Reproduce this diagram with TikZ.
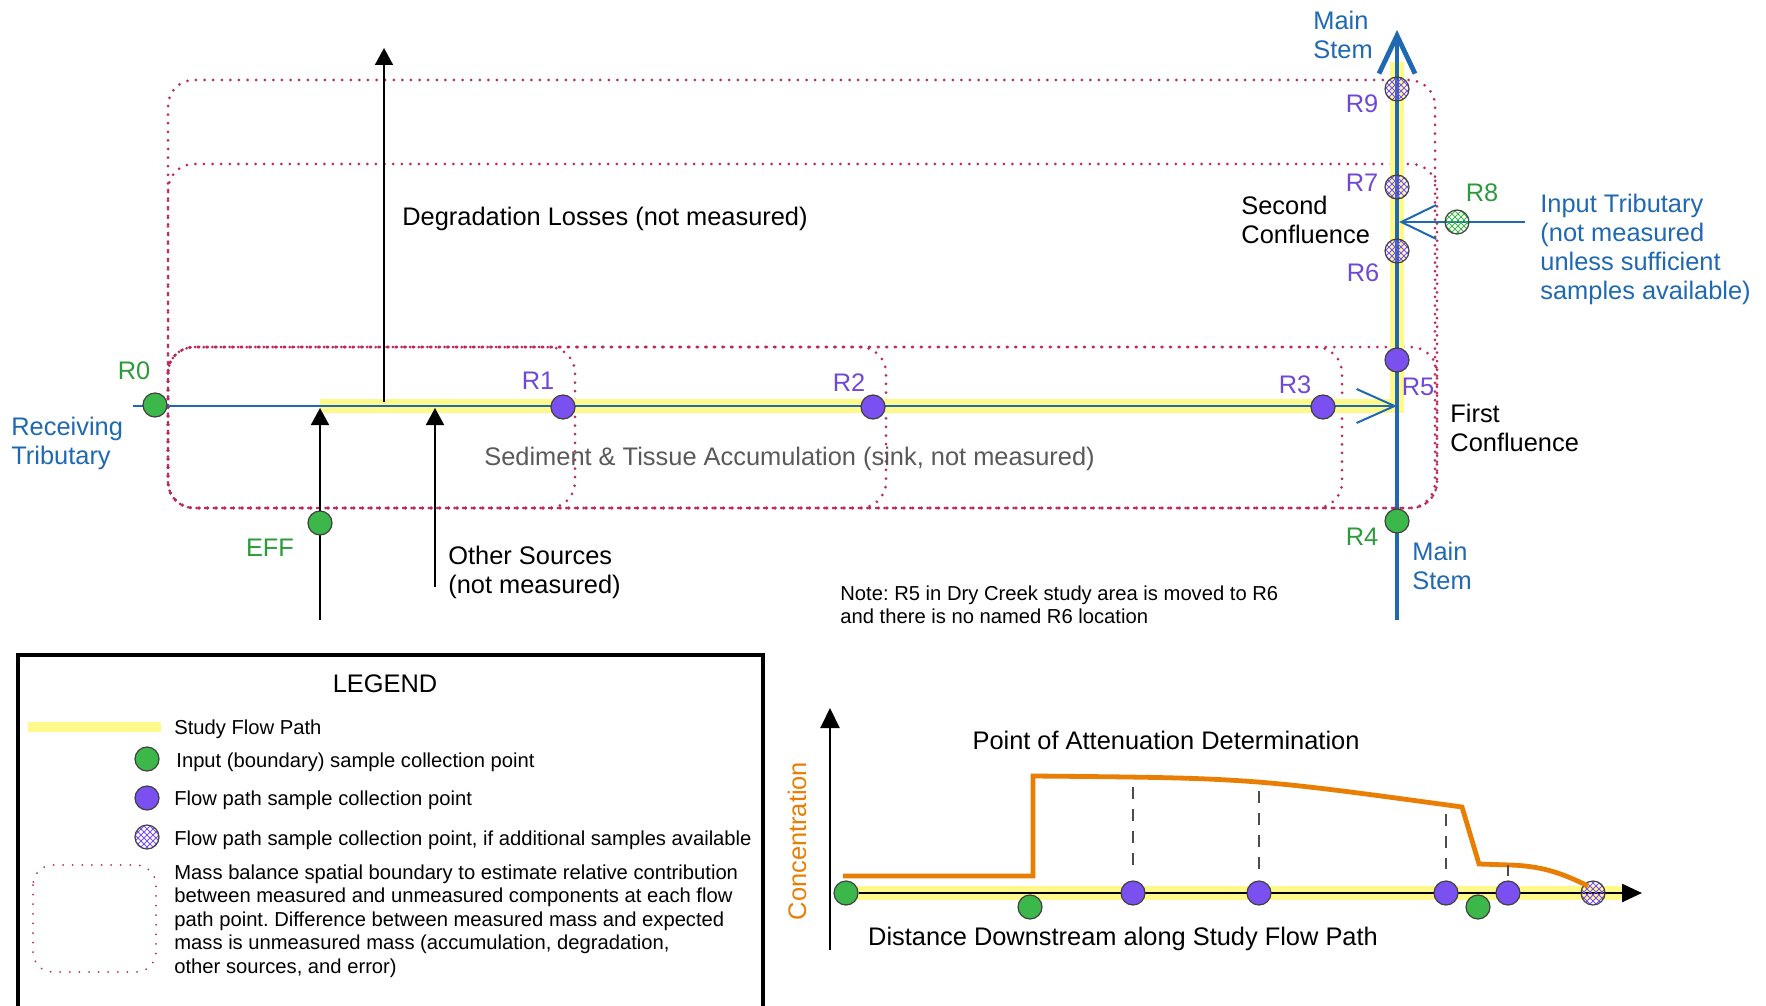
\documentclass[tikz,border=0pt]{standalone}
\usepackage{fontspec}
\setmainfont{Liberation Sans}
\usetikzlibrary{arrows.meta,patterns}
\frenchspacing

\definecolor{rivblue}{RGB}{31,104,178}
\definecolor{ingreen}{RGB}{60,184,74}
\definecolor{txtgreen}{RGB}{46,154,60}
\definecolor{ptpurple}{RGB}{122,80,240}
\definecolor{txtpurple}{RGB}{112,72,216}
\definecolor{bndred}{RGB}{190,40,90}
\definecolor{pathyellow}{RGB}{255,249,140}
\definecolor{concorange}{RGB}{232,126,4}

\tikzset{
  every node/.style={font=\fontsize{12.7}{14.5}\selectfont},
  lbl/.style={inner sep=0pt},
  small/.style={lbl, font=\fontsize{10.1}{11.6}\selectfont, align=left, anchor=west},
  spt/.style={circle, draw=black!75, line width=0.6pt, minimum size=12pt, inner sep=0pt},
  inpt/.style={spt, fill=ingreen},
  flowpt/.style={spt, fill=ptpurple},
  extrapt/.style={spt, preaction={pattern=north west lines, pattern color=#1},
    pattern=north east lines, pattern color=#1},
  extrapt/.default=ptpurple,
  bound/.style={draw=bndred, line width=1.5pt, line cap=round,
    dash pattern=on 0pt off 4.3pt, rounded corners=13pt},
  studypath/.style={draw=pathyellow, line width=7pt},
  river/.style={draw=rivblue, line width=1pt},
  stem/.style={draw=rivblue, line width=2.2pt},
  barb/.style={-{Straight Barb[length=19pt,width=17pt]}},
  srcarrow/.style={draw=black, line width=0.9pt, -{Triangle[length=8.5pt,width=9pt]}},
  dropline/.style={draw=black!70, line width=0.9pt, dash pattern=on 6pt off 5pt}
}

\begin{document}
\begin{tikzpicture}[x=0.5pt, y=-0.5pt]
\useasboundingbox (0,0) rectangle (1766,1006);

% mass balance boundaries
\draw[bound] (168,80) rectangle (1435,508);
\draw[bound] (168,164) rectangle (1437,508);
\foreach \xr in {575,886,1342,1437}
  \draw[bound] (168,347) rectangle (\xr,508);

% study flow path
\draw[studypath] (320,406) -| (1397,62);

\coordinate (rtin) at (133,406);
\coordinate (conf1) at (1397,406);
\coordinate (msbot) at (1397,620);
\coordinate (mstop) at (1397,30);
\coordinate (itin) at (1525,222);
\coordinate (conf2) at (1399,222);

\draw[river, barb] (rtin) -- (conf1);
\draw[stem, -{Straight Barb[length=19pt,width=18pt,line width=2.4pt]}] (msbot) -- (mstop);
\draw[river, -{Straight Barb[length=17.5pt,width=17pt]}] (itin) -- (conf2);

% unmeasured sources and losses
\coordinate (effsrc) at (320,620);
\coordinate (effin) at (320,408);
\coordinate (othsrc) at (435,587);
\coordinate (othin) at (435,408);
\coordinate (degout) at (384,402);
\coordinate (degtop) at (384,48);
\draw[srcarrow] (effsrc) -- (effin);
\draw[srcarrow] (othsrc) -- (othin);
\draw[srcarrow] (degout) -- (degtop);

% sample points
\node[inpt] (R0) at (155,405) {};
\node[flowpt] (R1) at (563,407) {};
\node[flowpt] (R2) at (873,407) {};
\node[flowpt] (R3) at (1323,407) {};
\node[flowpt] (R5) at (1397,360) {};
\node[inpt] (R4) at (1397,521) {};
\node[extrapt] (R6) at (1397,251) {};
\node[extrapt] (R7) at (1397,187) {};
\node[extrapt] (R9) at (1397,89) {};
\node[spt, fill=white, extrapt=ingreen] (R8) at (1457,222) {};
\node[inpt] (EFF) at (320,523) {};

% labels
\node[lbl, txtgreen] at (134,371) {R0};
\node[lbl, txtpurple] at (538,381) {R1};
\node[lbl, txtpurple] at (849,383) {R2};
\node[lbl, txtpurple] at (1295,385) {R3};
\node[lbl, txtgreen] at (1362,537) {R4};
\node[lbl, txtpurple] at (1418,387) {R5};
\node[lbl, txtpurple] at (1363,273) {R6};
\node[lbl, txtpurple] at (1362,183) {R7};
\node[lbl, txtgreen] at (1482,193) {R8};
\node[lbl, txtpurple] at (1362,104) {R9};
\node[lbl, txtgreen] at (270,548) {EFF};
\node[lbl, rivblue, align=left, anchor=west] at (11,443) {Receiving\\Tributary};
\node[lbl, rivblue, align=left, anchor=west] at (1313,35) {Main\\Stem};
\node[lbl, rivblue, align=left, anchor=west] at (1412,566) {Main\\Stem};
\node[lbl, rivblue, align=left, anchor=west] at (1540,249)
  {Input Tributary\\(not measured\\unless sufficient\\samples available)};
\node[lbl, align=left, anchor=west] at (1241,220) {Second\\Confluence};
\node[lbl, align=left, anchor=west] at (1450,428) {First\\Confluence};
\node[lbl, align=left, anchor=west] at (448,572) {Other Sources\\(not measured)};
\node[lbl, anchor=west] at (402,219) {Degradation Losses (not measured)};
\node[lbl, anchor=west, black!65] at (484,459) {Sediment \& Tissue Accumulation (sink, not measured)};
\node[small] at (840,605) {Note: R5 in Dry Creek study area is moved to R6\\and there is no named R6 location};

% legend
\draw[line width=2.2pt] (18,1006) -- (18,655) -- (763,655) -- (763,1006);
\node[lbl] at (385,684) {LEGEND};
\draw[studypath, line width=5pt] (28,727) -- (161,727);
\node[inpt] (lgin) at (147,759) {};
\node[flowpt] (lgflow) at (147,798) {};
\node[spt, fill=white, extrapt] (lgextra) at (147,837) {};
\draw[bound, line width=1pt, dash pattern=on 0pt off 4.8pt, rounded corners=10pt] (33,865) rectangle (156,972);
\node[small] at (174,729) {Study Flow Path};
\node[small] at (176,762) {Input (boundary) sample collection point};
\node[small] at (174,800) {Flow path sample collection point};
\node[small] at (174,840) {Flow path sample collection point, if additional samples available};
\node[small, font=\fontsize{10.1}{11.8}\selectfont] at (174,921)
  {Mass balance spatial boundary to estimate relative contribution\\
   between measured and unmeasured components at each flow\\
   path point. Difference between measured mass and expected\\
   mass is unmeasured mass (accumulation, degradation,\\
   other sources, and error)};

% concentration along the flow path
\coordinate (yaxbot) at (830,950);
\coordinate (yaxtop) at (830,708);
\coordinate (xaxend) at (1642,893);
\draw[studypath] (846,893) -- (1623,893);
\draw[line width=1pt, -{Triangle[length=10pt,width=9.5pt]}] (yaxbot) -- (yaxtop);
\node[inpt] (c0) at (846,893) {};
\draw[line width=1.2pt, -{Triangle[length=10pt,width=9pt]}] (c0) -- (xaxend);
\node[inpt] (c1) at (1030,907) {};
\node[flowpt] (c2) at (1133,893) {};
\node[flowpt] (c3) at (1259,893) {};
\node[flowpt] (c4) at (1446,893) {};
\node[inpt] (c5) at (1478,907) {};
\node[flowpt] (c6) at (1508,893) {};
\node[extrapt] (c7) at (1593,893) {};

\draw[concorange, line width=2.4pt, line join=miter]
  (843,876) -- (1033,876) -- (1033,776) .. controls (1250,778) .. (1462,807)
  -- (1479,864) -- (1510,865) .. controls (1540,866) and (1560,872) .. (1588,886);

\coordinate (k2) at (1133,787);
\coordinate (k3) at (1259,791);
\coordinate (k4) at (1446,814);
\coordinate (k6) at (1508,865);
\foreach \k/\c in {k2/c2,k3/c3,k4/c4}
  \draw[dropline, shorten >=5.5pt] (\k) -- (\c);
\draw[black!70, line width=0.9pt, shorten >=2pt] (k6) -- (c6);

\node[lbl] at (1166,740) {Point of Attenuation Determination};
\node[lbl] at (1123,939) {Distance Downstream along Study Flow Path};
\node[lbl, concorange, rotate=90] at (797,841) {Concentration};

\end{tikzpicture}
\end{document}
